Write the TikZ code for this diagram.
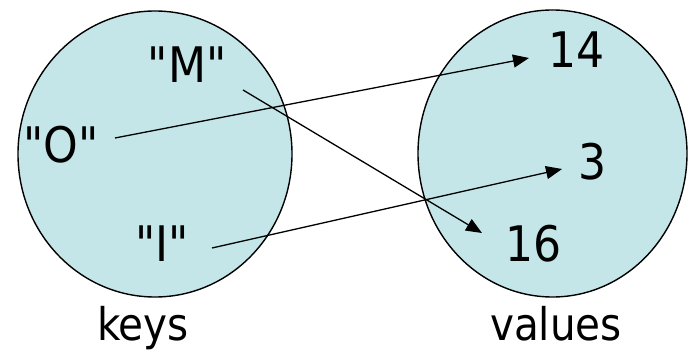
\documentclass[tikz,border=0pt]{standalone}
\usepackage{fontspec}
\setmainfont{DejaVu Sans Condensed}[Ligatures=TeXOff]
\usetikzlibrary{arrows.meta}
\definecolor{setfill}{RGB}{196,230,232}
\begin{document}
\begin{tikzpicture}[x=1pt,y=-1pt,
  setshape/.style={draw=black,line width=1.4pt,fill=setfill},
  lbl/.style={anchor=base,inner sep=0pt,font=\fontsize{49}{55}\selectfont},
  captionlbl/.style={anchor=base,inner sep=0pt,font=\fontsize{45}{50}\selectfont},
  maparrow/.style={draw=black,line width=1.3pt,-{Triangle[length=16pt,width=13pt]}}]
\useasboundingbox (0,0) rectangle (688,352);
\fill[white] (0,0) rectangle (688,352);
% sets
\draw[setshape] (155,154) ellipse [x radius=137pt, y radius=143pt];
\draw[setshape] (552.5,153.5) ellipse [x radius=134.5pt, y radius=143.5pt];
% keys
\node[lbl] (M) at (187,83) {"M"};
\node[lbl] (O) at (61,163) {"O"};
\node[lbl] (I) at (162,262) {"I"};
% values
\node[lbl] (v14) at (577,68) {14};
\node[lbl] (v3) at (593,180) {3};
\node[lbl] (v16) at (534,262) {16};
% captions
\node[captionlbl] (keys) at (143,341) {keys};
\node[captionlbl] (values) at (556,341) {values};
% connector ends
\coordinate (oS) at (115,138);
\coordinate (oE) at (529,58);
\coordinate (mS) at (243,90);
\coordinate (mE) at (482,233);
\coordinate (iS) at (212,248);
\coordinate (iE) at (562,169);
\draw[maparrow] (oS) -- (oE);
\draw[maparrow] (mS) -- (mE);
\draw[maparrow] (iS) -- (iE);
\end{tikzpicture}
\end{document}
